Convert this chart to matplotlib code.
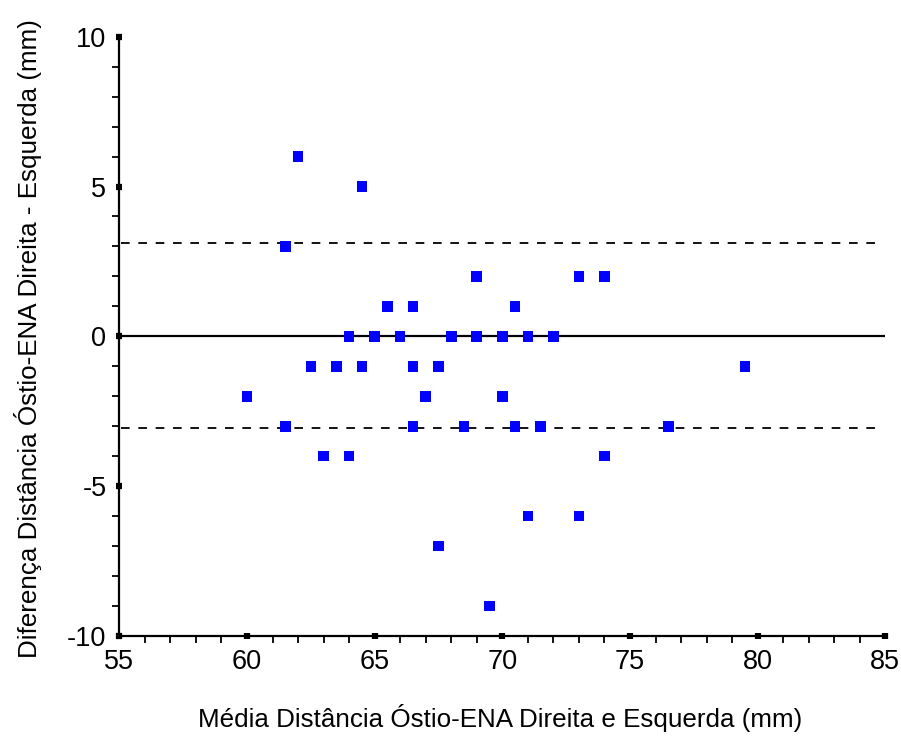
import matplotlib
matplotlib.use("Agg")
import matplotlib.pyplot as plt
from matplotlib.ticker import MultipleLocator

# Data: mean (x) and difference (y)
mean_vals = [62, 64.5, 61.5, 69, 73, 74, 65.5, 66.5, 70.5,
             64, 65, 66, 68, 69, 70, 71, 72,
             62.5, 63.5, 64.5, 66.5, 67.5, 79.5,
             60, 67, 70,
             61.5, 66.5, 68.5, 70.5, 71.5, 76.5,
             63, 64, 74,
             71, 73,
             67.5,
             69.5]
diff_vals = [6, 5, 3, 2, 2, 2, 1, 1, 1,
             0, 0, 0, 0, 0, 0, 0, 0,
             -1, -1, -1, -1, -1, -1,
             -2, -2, -2,
             -3, -3, -3, -3, -3, -3,
             -4, -4, -4,
             -6, -6,
             -7,
             -9]
upper_limit = 3.13
lower_limit = -3.06
zero_line = 0

x_ticks = [55, 60, 65, 70, 75, 80, 85]
y_ticks = [-10, -5, 0, 5, 10]

x_label = 'Média Distância Óstio-ENA Direita e Esquerda (mm)'
y_label = 'Diferença Distância Óstio-ENA Direita - Esquerda (mm)'

plt.rcParams['font.family'] = ['Liberation Sans', 'DejaVu Sans']
plt.rcParams['axes.unicode_minus'] = False

fig = plt.figure(figsize=(9.01, 7.46), dpi=100)
ax = fig.add_axes([119.3/901, 1-636/746, (885.3-119.3)/901, (636-36.7)/746])

ax.set_xlim(55, 85)
ax.set_ylim(-10, 10)

ax.plot([55, 85], [zero_line, zero_line], color='black', lw=1.6, zorder=2)
ax.plot([55.05, 84.75], [upper_limit, upper_limit], color='black', lw=1.3,
        dashes=(4.8, 4.8), zorder=2)
ax.plot([55.05, 84.75], [lower_limit, lower_limit], color='black', lw=1.3,
        dashes=(4.8, 4.8), zorder=2)

ax.scatter(mean_vals, diff_vals, marker='s', s=58, color='#0000ff',
           edgecolors='none', zorder=3)

for s in ['top', 'right']:
    ax.spines[s].set_visible(False)
for s in ['left', 'bottom']:
    ax.spines[s].set_linewidth(1.6)

ax.set_xticks(x_ticks)
ax.set_yticks(y_ticks)
ax.xaxis.set_minor_locator(MultipleLocator(1))
ax.yaxis.set_minor_locator(MultipleLocator(1))
ax.tick_params(which='major', direction='inout', length=4.5, width=4.5,
               labelsize=19.5, pad=7)
ax.tick_params(which='minor', direction='out', length=5, width=1.3)

fig.text(500/901, 1-718/746, x_label, fontsize=18.7, ha='center', va='center')
fig.text(28/901, 1-338.5/746, y_label, fontsize=18.7, ha='center', va='center',
         rotation=90)

fig.savefig('out.png', dpi=100)
